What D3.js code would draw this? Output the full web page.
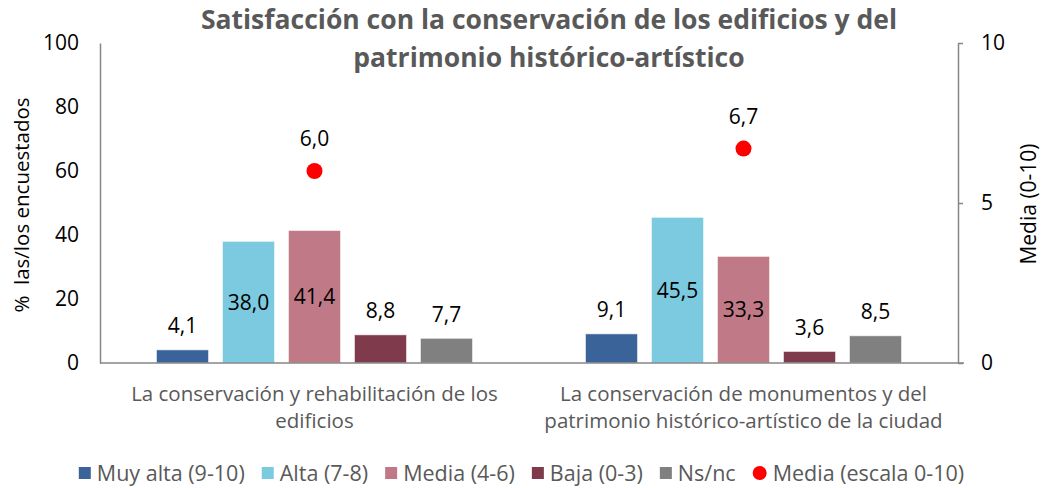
<!DOCTYPE html>
<html lang="es">
<head>
<meta charset="UTF-8">
<title>Satisfacción con la conservación</title>
<script src="https://d3js.org/d3.v7.min.js"></script>
<style>
    body { margin: 0; background: #fff; }
    svg text { font-family: "Open Sans", sans-serif; }
</style>
</head>
<body>
<svg width="1043" height="488"></svg>
<script>
    // Data
    const categories = [
        ["La conservación y rehabilitación de los", "edificios"],
        ["La conservación de monumentos y del", "patrimonio histórico-artístico de la ciudad"]
    ];
    const seriesNames = ["Muy alta (9-10)", "Alta (7-8)", "Media (4-6)", "Baja (0-3)", "Ns/nc"];
    const seriesColors = ["#3a6399", "#7ccadf", "#c07a87", "#7f3a4b", "#808080"];
    const muyAlta = [4.1, 9.1];
    const alta = [38.0, 45.5];
    const media = [41.4, 33.3];
    const baja = [8.8, 3.6];
    const nsnc = [7.7, 8.5];
    const mediaEscala = [6.0, 6.7];
    const leftTicks = [0, 20, 40, 60, 80, 100];
    const rightTicks = [0, 5, 10];

    const seriesValues = [muyAlta, alta, media, baja, nsnc];
    const fmt = v => v.toFixed(1).replace(".", ",");

    const svg = d3.select("svg");
    const margin = { top: 43, right: 85, bottom: 125, left: 100 };
    const W = 1043, H = 488;
    const plotW = W - margin.left - margin.right;
    const plotH = H - margin.top - margin.bottom;

    const g = svg.append("g").attr("transform", `translate(${margin.left},${margin.top})`);

    const x0 = d3.scaleBand().domain(d3.range(categories.length)).range([0, plotW]);
    const x1 = d3.scaleBand().domain(d3.range(seriesNames.length))
        .range([0, x0.bandwidth()]).paddingInner(0.212).paddingOuter(0.856);
    const y = d3.scaleLinear().domain([0, 100]).range([plotH, 0]);
    const y2 = d3.scaleLinear().domain([0, 10]).range([plotH, 0]);

    // Left axis
    const yAxis = g.append("g")
        .call(d3.axisLeft(y).tickValues(leftTicks).tickSize(0).tickPadding(21));
    yAxis.select(".domain").attr("stroke", "#868686").attr("stroke-width", 1.5);
    yAxis.selectAll("text").attr("font-size", 21).attr("fill", "#000");

    // Right axis
    const y2Axis = g.append("g").attr("transform", `translate(${plotW},0)`)
        .call(d3.axisRight(y2).tickValues(rightTicks).tickSizeInner(5).tickSizeOuter(0).tickPadding(18));
    y2Axis.select(".domain").attr("stroke", "#868686").attr("stroke-width", 1.5);
    y2Axis.selectAll("line").attr("stroke", "#868686").attr("stroke-width", 1.5);
    y2Axis.selectAll("text").attr("font-size", 21).attr("fill", "#000");

    // Bars
    const groups = g.selectAll(".grp").data(categories).join("g")
        .attr("class", "grp")
        .attr("transform", (d, i) => `translate(${x0(i)},0)`);

    groups.each(function(cat, ci) {
        const grp = d3.select(this);
        seriesValues.forEach((vals, si) => {
            const v = vals[ci];
            grp.append("rect")
                .attr("x", x1(si))
                .attr("y", y(v))
                .attr("width", x1.bandwidth())
                .attr("height", y(0) - y(v))
                .attr("fill", seriesColors[si])
                .attr("stroke", "#fff")
                .attr("stroke-opacity", 0.5)
                .attr("stroke-width", 1);
            // large bars: label centred in bar, small bars: label above
            const ly = v > 20 ? (y(v) + y(0)) / 2 : y(v) - 24;
            grp.append("text")
                .attr("x", x1(si) + x1.bandwidth() / 2)
                .attr("y", ly)
                .attr("dy", "0.35em")
                .attr("text-anchor", "middle")
                .attr("font-size", 21)
                .attr("fill", "#000")
                .text(fmt(v));
        });
    });

    // Baseline
    g.append("line")
        .attr("x1", 0).attr("x2", plotW + 6)
        .attr("y1", y(0)).attr("y2", y(0))
        .attr("stroke", "#868686").attr("stroke-width", 1.5);

    // Media (escala 0-10) dots
    const dotX = i => x0(i) + x0.bandwidth() / 2;
    g.selectAll(".dot").data(mediaEscala).join("circle")
        .attr("class", "dot")
        .attr("cx", (d, i) => dotX(i))
        .attr("cy", d => y2(d))
        .attr("r", 8)
        .attr("fill", "#ff0000");
    g.selectAll(".dotlbl").data(mediaEscala).join("text")
        .attr("class", "dotlbl")
        .attr("x", (d, i) => dotX(i))
        .attr("y", d => y2(d) - 32)
        .attr("dy", "0.35em")
        .attr("text-anchor", "middle")
        .attr("font-size", 21)
        .attr("fill", "#000")
        .text(fmt);

    // Category labels
    groups.append("text")
        .attr("x", x0.bandwidth() / 2)
        .attr("y", plotH + 31)
        .attr("text-anchor", "middle")
        .attr("font-size", 20.5)
        .attr("fill", "#595959")
        .selectAll("tspan").data(d => d).join("tspan")
        .attr("x", x0.bandwidth() / 2)
        .attr("dy", (d, i) => i === 0 ? "0.35em" : "1.32em")
        .text(d => d);

    // Title
    svg.append("text")
        .attr("x", 549)
        .attr("y", 29)
        .attr("text-anchor", "middle")
        .attr("font-size", 26.5)
        .attr("font-weight", "bold")
        .attr("fill", "#595959")
        .selectAll("tspan")
        .data(["Satisfacción con la conservación de los edificios y del", "patrimonio histórico-artístico"])
        .join("tspan")
        .attr("x", 549)
        .attr("dy", (d, i) => i === 0 ? "0" : "1.42em")
        .text(d => d);

    // Axis titles
    svg.append("text")
        .attr("transform", `translate(22,${margin.top + plotH / 2 + 2}) rotate(-90)`)
        .attr("text-anchor", "middle")
        .attr("dy", "0.35em")
        .attr("font-size", 20.5)
        .attr("fill", "#000")
        .attr("xml:space", "preserve")
        .text("%  las/los encuestados");
    svg.append("text")
        .attr("transform", `translate(1029,${margin.top + plotH / 2 + 1}) rotate(-90)`)
        .attr("text-anchor", "middle")
        .attr("dy", "0.35em")
        .attr("font-size", 21)
        .attr("fill", "#000")
        .text("Media (0-10)");

    // Legend
    const legendItems = seriesNames.map((n, i) => ({ name: n, color: seriesColors[i], type: "rect" }))
        .concat([{ name: "Media (escala 0-10)", color: "#ff0000", type: "circle" }]);
    const legend = svg.append("g");
    let lx = 0;
    const items = legend.selectAll(".li").data(legendItems).join("g").attr("class", "li");
    items.each(function(d) {
        const it = d3.select(this);
        if (d.type === "rect") {
            it.append("rect").attr("x", 0).attr("y", -6).attr("width", 12).attr("height", 12).attr("fill", d.color);
        } else {
            it.append("circle").attr("cx", 7).attr("cy", 0).attr("r", 7).attr("fill", d.color);
        }
        it.append("text")
            .attr("x", d.type === "rect" ? 18 : 20)
            .attr("dy", "0.35em")
            .attr("font-size", 21.5)
            .attr("fill", "#595959")
            .text(d.name);
    });
    const gap = 17;
    items.each(function() {
        const it = d3.select(this);
        it.attr("transform", `translate(${lx},0)`);
        lx += this.getBBox().width + gap;
    });
    const totalW = lx - gap;
    legend.attr("transform", `translate(${(W - totalW) / 2},473)`);
</script>
</body>
</html>
